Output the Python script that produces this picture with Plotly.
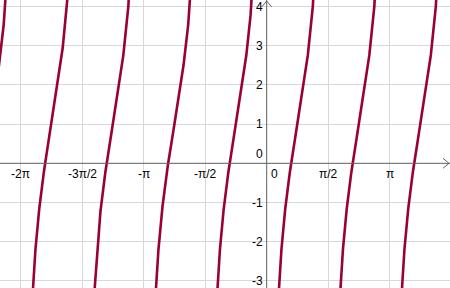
import numpy as np
import plotly.graph_objects as go

# Function: y = A*tan(B*x - C) + D
A = 3.0
B = 2.0
C = np.pi / 2
D = 1.0

x_range = [-6.812, 4.682]
y_range = [-3.181, 4.166]

x_tick_vals = [-2 * np.pi, -1.5 * np.pi, -np.pi, -0.5 * np.pi, 0.5 * np.pi, np.pi]
x_tick_text = ["-2π", "-3π/2", "-π", "-π/2", "π/2", "π"]
y_tick_vals = [-3, -2, -1, 1, 2, 3, 4]
y_tick_text = ["-3", "-2", "-1", "1", "2", "3", "4"]

curve_color = "rgb(153,0,51)"
axis_color = "#666666"
grid_color = "#d8d8d8"
font = dict(family="Liberation Sans, Arial, sans-serif", size=12, color="black")

# build branches between asymptotes
period = np.pi / B
k0 = int(np.floor((x_range[0] * B - C - np.pi / 2) / np.pi)) - 1
k1 = int(np.ceil((x_range[1] * B - C - np.pi / 2) / np.pi)) + 1
xs, ys = [], []
for k in range(k0, k1 + 1):
    a = (C + np.pi / 2 + k * np.pi) / B
    b = a + period
    eps = 1e-4
    t = np.linspace(a + eps, b - eps, 3000)
    y = A * np.tan(B * t - C) + D
    m = (y > y_range[0] - 3) & (y < y_range[1] + 3)
    xs += list(t[m]) + [None]
    ys += list(y[m]) + [None]

fig = go.Figure()
fig.add_trace(go.Scatter(x=xs, y=ys, mode="lines",
                         line=dict(color=curve_color, width=2.6),
                         hoverinfo="skip", showlegend=False))

fig.update_xaxes(range=x_range, tick0=0, dtick=np.pi / 2, showgrid=True,
                 gridcolor=grid_color, gridwidth=1, zeroline=False,
                 showticklabels=False, showline=False, ticks="")
fig.update_yaxes(range=y_range, tick0=0, dtick=1, showgrid=True,
                 gridcolor=grid_color, gridwidth=1, zeroline=False,
                 showticklabels=False, showline=False, ticks="")

shapes = [
    dict(type="line", xref="paper", yref="y", x0=0, x1=1, y0=0, y1=0,
         line=dict(color=axis_color, width=1)),
    dict(type="line", xref="x", yref="paper", x0=0, x1=0, y0=0, y1=1,
         line=dict(color=axis_color, width=1)),
    # arrow chevrons
    dict(type="path", xref="paper", yref="y", xsizemode="pixel", ysizemode="pixel",
         xanchor=1, yanchor=0, path="M -7 5 L -1 0 L -7 -5",
         line=dict(color=axis_color, width=1)),
    dict(type="path", xref="x", yref="paper", xsizemode="pixel", ysizemode="pixel",
         xanchor=0, yanchor=1, path="M -5 -7 L 0 -1 L 5 -7",
         line=dict(color=axis_color, width=1)),
]

annotations = []
for v, t in zip(x_tick_vals, x_tick_text):
    annotations.append(dict(x=v, y=0, xref="x", yref="y", text=t, showarrow=False,
                            xanchor="center", yanchor="top", yshift=-2, font=font))
for v, t in zip(y_tick_vals, y_tick_text):
    annotations.append(dict(x=0, y=v, xref="x", yref="y", text=t, showarrow=False,
                            xanchor="right", yanchor="middle", xshift=-2, font=font))
annotations.append(dict(x=0, y=0, xref="x", yref="y", text="0", showarrow=False,
                        xanchor="left", yanchor="top", xshift=2, yshift=-2, font=font))
annotations.append(dict(x=0, y=0, xref="x", yref="y", text="0", showarrow=False,
                        xanchor="right", yanchor="bottom", xshift=-2, yshift=0, font=font))

fig.update_layout(width=450, height=288, margin=dict(l=0, r=0, t=0, b=0),
                  plot_bgcolor="white", paper_bgcolor="white",
                  shapes=shapes, annotations=annotations)

fig.write_html("out.html")
